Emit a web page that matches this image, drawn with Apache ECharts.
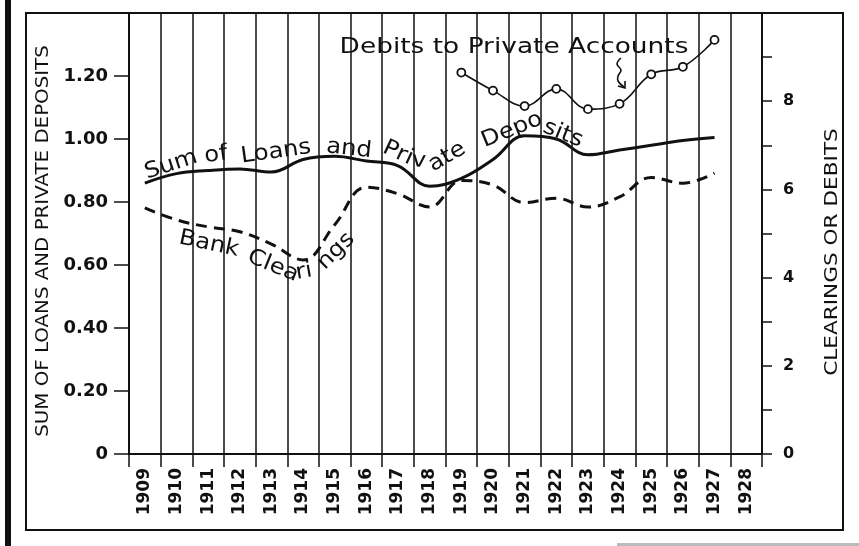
<!DOCTYPE html>
<html>
<head>
<meta charset="utf-8">
<script src="https://cdn.jsdelivr.net/npm/echarts@6/dist/echarts.min.js"></script>
<style>
  html, body { margin: 0; padding: 0; background: #fff; }
  #chart { width: 859px; height: 546px; }
</style>
</head>
<body>
<div id="chart"></div>
<script>
// years on the x axis (one category per year, lines at the boundaries)
var years = ['1909', '1910', '1911', '1912', '1913', '1914', '1915', '1916', '1917', '1918',
             '1919', '1920', '1921', '1922', '1923', '1924', '1925', '1926', '1927', '1928'];

// left scale
var sumLoansDeposits = [0.86, 0.89, 0.90, 0.905, 0.895, 0.935, 0.945, 0.93, 0.915, 0.85,
                        0.875, 0.935, 1.01, 1.00, 0.95, 0.965, 0.98, 0.995, 1.005, null];

// right scale
var bankClearings = [5.58, 5.31, 5.15, 5.04, 4.76, 4.40, 5.2, 6.05, 5.9, 5.6,
                     6.2, 6.1, 5.7, 5.8, 5.6, 5.83, 6.27, 6.14, 6.37, null];
var debitsPrivate = [null, null, null, null, null, null, null, null, null, null,
                     8.65, 8.24, 7.89, 8.28, 7.82, 7.94, 8.61, 8.78, 9.39, null];

var leftMax = 1.4, leftStep = 0.2;
var rightMax = 10, rightStep = 1;

var FONT = 'DejaVu Sans';
var INK = '#111';

var myChart = echarts.init(document.getElementById('chart'));

// curved captions, set word piece by word piece
function piece(txt, x, y, deg) {
    return {
        type: 'text', x: x, y: y, rotation: deg * Math.PI / 180, scaleX: 1.1, z: 50,
        style: { text: txt, fill: INK, font: 'normal 22px ' + FONT,
                 align: 'center', verticalAlign: 'middle' }
    };
}

var option = {
    animation: false,
    backgroundColor: '#fff',
    grid: { left: 129, right: 97, top: 13, bottom: 92, outerBoundsMode: 'none' },
    xAxis: {
        type: 'category',
        data: years,
        boundaryGap: true,
        axisLine: { show: true, lineStyle: { color: INK, width: 2 } },
        axisTick: { show: true, length: 13, lineStyle: { color: INK, width: 1.5 } },
        splitLine: { show: true, interval: 0, lineStyle: { color: INK, width: 1.5 } },
        axisLabel: { interval: 0, rotate: 90, margin: 14, color: INK,
                     fontFamily: FONT, fontSize: 17, fontWeight: 'bold' }
    },
    yAxis: [
        {
            type: 'value', min: 0, max: leftMax, interval: leftStep, position: 'left',
            axisLine: { show: true, lineStyle: { color: INK, width: 2 } },
            axisTick: { show: true, length: 15, lineStyle: { color: INK, width: 1.5 } },
            splitLine: { show: false },
            axisLabel: {
                margin: 21, color: INK, fontFamily: FONT, fontSize: 18, fontWeight: 'bold',
                formatter: function (v) {
                    if (v === 0) return '0';
                    if (v > leftMax - 0.01) return '';
                    return v.toFixed(2);
                }
            }
        },
        {
            type: 'value', min: 0, max: rightMax, interval: rightStep, position: 'right',
            axisLine: { show: true, lineStyle: { color: INK, width: 2 } },
            axisTick: { show: true, length: 10, lineStyle: { color: INK, width: 1.5 } },
            splitLine: { show: false },
            axisLabel: {
                margin: 21, color: INK, fontFamily: FONT, fontSize: 16, fontWeight: 'bold',
                formatter: function (v) {
                    return (v % 2 === 0 && v < rightMax) ? String(v) : '';
                }
            }
        }
    ],
    series: [
        {
            name: 'Sum of Loans and Private Deposits', type: 'line', yAxisIndex: 0,
            data: sumLoansDeposits, smooth: 0.4, showSymbol: false, symbol: 'none',
            lineStyle: { color: INK, width: 3 }
        },
        {
            name: 'Bank Clearings', type: 'line', yAxisIndex: 1,
            data: bankClearings, smooth: 0.4, showSymbol: false, symbol: 'none',
            lineStyle: { color: INK, width: 3, type: [11, 7] }
        },
        {
            name: 'Debits to Private Accounts', type: 'line', yAxisIndex: 1,
            data: debitsPrivate, smooth: 0.4, symbol: 'circle', symbolSize: 8,
            itemStyle: { color: '#fff', borderColor: INK, borderWidth: 1.8 },
            lineStyle: { color: INK, width: 1.6 }
        }
    ],
    graphic: [
        // page edge and frame
        { type: 'rect', shape: { x: 5, y: 0, width: 6, height: 546 }, style: { fill: '#111' } },
        { type: 'rect', shape: { x: 617, y: 543, width: 242, height: 3 }, style: { fill: '#bbb' } },
        { type: 'rect', shape: { x: 26, y: 13, width: 817, height: 517 },
          style: { fill: 'none', stroke: INK, lineWidth: 2 } },
        // axis titles
        { type: 'text', x: 43, y: 241, rotation: Math.PI / 2, scaleX: 1.1,
          style: { text: 'SUM OF LOANS AND PRIVATE DEPOSITS', fill: INK, font: 'normal 18px ' + FONT,
                   align: 'center', verticalAlign: 'middle' } },
        { type: 'text', x: 832, y: 252, rotation: Math.PI / 2, scaleX: 1.2,
          style: { text: 'CLEARINGS OR DEBITS', fill: INK, font: 'normal 18px ' + FONT,
                   align: 'center', verticalAlign: 'middle' } },
        // captions
        { type: 'text', x: 514, y: 47, scaleX: 1.2, z: 50,
          style: { text: 'Debits to Private Accounts', fill: INK, font: 'normal 22px ' + FONT,
                   align: 'center', verticalAlign: 'middle' } },
        { type: 'polyline', z: 50,
          shape: { points: [[621, 58], [617, 64], [621, 70], [618, 76], [618, 81], [624, 87]], smooth: 0.4 },
          style: { stroke: INK, lineWidth: 1.6, fill: 'none' } },
        { type: 'polyline', z: 50, shape: { points: [[618, 86], [625, 88], [625, 81]] },
          style: { stroke: INK, lineWidth: 1.6, fill: 'none' } },
        piece('Sum', 171, 165, 18),
        piece('of', 216, 155, 8),
        piece('Loans', 276, 152, 8),
        piece('and', 349, 149, -6),
        piece('Pri', 398, 153, -25),
        piece('v', 419, 161, -5),
        piece('ate', 447, 157, 30),
        piece('Depo', 512, 130, 22),
        piece('sits', 563, 134, -22),
        piece('Bank', 209, 244, -12),
        piece('Clea', 273, 266, -22),
        piece('ri', 304, 272, 10),
        piece('ngs', 336, 251, 45)
    ]
};
myChart.setOption(option);
</script>
</body>
</html>
